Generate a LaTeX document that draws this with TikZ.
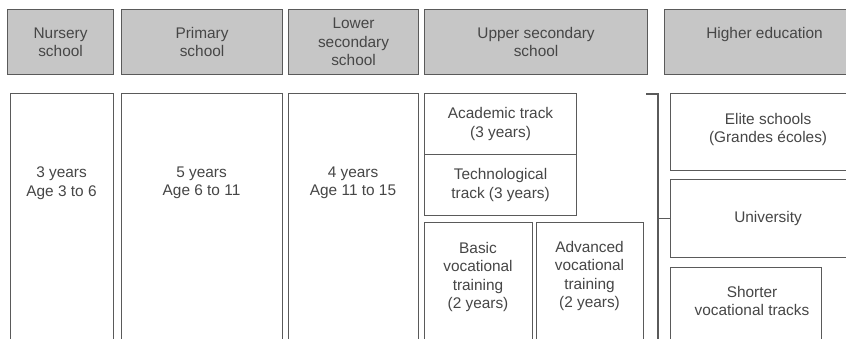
\documentclass[tikz,border=0pt]{standalone}
\usepackage{fontspec}
\setmainfont{Liberation Sans}
\usepackage{tikz}
\usetikzlibrary{positioning}
\definecolor{edge}{HTML}{5A5A5A}
\definecolor{headfill}{HTML}{C6C6C6}
\definecolor{ink}{HTML}{464646}
\tikzset{
  head/.style={draw=edge, fill=headfill, line width=1.1pt, anchor=north west, inner sep=0pt,
    minimum height=65pt, text=ink, align=center, font=\fontsize{15.4}{18.5}\selectfont},
  cell/.style={draw=edge, fill=white, line width=1.1pt, anchor=north west, inner sep=0pt,
    text=ink, align=center, font=\fontsize{15.4}{18.5}\selectfont},
  txt/.style={text=ink, align=center, inner sep=0pt, font=\fontsize{15.4}{18.5}\selectfont},
}
\begin{document}
\begin{tikzpicture}[x=1pt,y=-1pt]
            \useasboundingbox (0,0) rectangle (846,339);
            \clip (0,0) rectangle (846,339);
            % header row
            \node[head, minimum width=106pt] (hnur) at (7,9) {Nursery\\school};
            \node[head, minimum width=161pt] (hpri) at (121,9) {Primary\\school};
            \node[head, minimum width=130pt] (hlow) at (288,9) {Lower\\secondary\\school};
            \node[head, minimum width=223pt] (hupp) at (424,9) {Upper secondary\\school};
            \node[head, minimum width=200pt] (hhig) at (664,9) {Higher education\\\mbox{}};
            % open columns
            \node[cell, minimum width=103pt, minimum height=270pt] (nur) at (10,93) {};
            \node[cell, minimum width=161pt, minimum height=270pt] (pri) at (121,93) {};
            \node[cell, minimum width=130pt, minimum height=270pt] (low) at (288,93) {};
            \node[txt] (tnur) at (61.5,183) {3 years\\Age 3 to 6};
            \node[txt] (tpri) at (201.5,183) {5 years\\Age 6 to 11};
            \node[txt] (tlow) at (353,183) {4 years\\Age 11 to 15};
            % upper secondary tracks
            \node[cell, minimum width=152pt, minimum height=61pt] (acad) at (424,93) {Academic track\\(3 years)};
            \node[cell, minimum width=152pt, minimum height=61pt] (tech) at (424,154) {Technological\\track (3 years)};
            \node[cell, minimum width=108pt, minimum height=140pt] (basic) at (424,222) {};
            \node[cell, minimum width=107pt, minimum height=140pt] (adv) at (536,222) {};
            \node[txt] (tbasic) at (478,277) {Basic\\vocational\\training\\(2 years)};
            \node[txt] (tadv) at (589.5,276) {Advanced\\vocational\\training\\(2 years)};
            % higher education
            \node[cell, minimum width=195pt, minimum height=77pt] (elite) at (670,93) {Elite schools\\(Grandes écoles)\\[-10pt]\mbox{}};
            \node[cell, minimum width=195pt, minimum height=78pt] (uni) at (670,179) {University};
            \node[cell, minimum width=151pt, minimum height=100pt] (short) at (670,267) {};
            \node[txt] (tshort) at (752,301) {Shorter\\vocational tracks};
            % bracket
            \coordinate (brtop) at (646,94);
            \coordinate (brbot) at (658,350);
            \draw[edge, line width=1.1pt] (brtop) -| (brbot);
            \draw[edge, line width=1.1pt] (uni.west) -- (uni.west -| brbot);
        \end{tikzpicture}
\end{document}
